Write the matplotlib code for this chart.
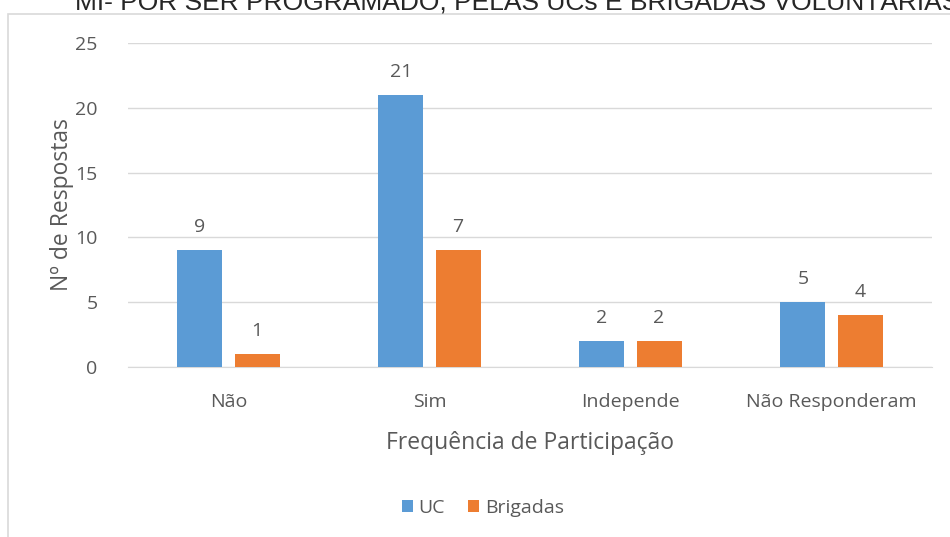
import matplotlib.pyplot as plt
import numpy as np
from matplotlib.patches import Rectangle

# Data
categories = ["Não", "Sim", "Independe", "Não Responderam"]
uc = [9, 21, 2, 5]
brigadas = [1, 9, 2, 4]
uc_labels = ["9", "21", "2", "5"]
brigadas_labels = ["1", "7", "2", "4"]

blue = "#5B9BD5"
orange = "#ED7D31"
gray = "#595959"

plt.rcParams["font.family"] = ["Open Sans", "DejaVu Sans"]

W, H = 950, 537
fig = plt.figure(figsize=(W / 100, H / 100), dpi=100)
ax = fig.add_axes([128 / W, 1 - 367 / H, 804 / W, 324 / H])

# chart border
fig.patches.append(Rectangle((8 / W, -0.1), 1.2, 1 - 14 / H + 0.1, transform=fig.transFigure,
                             fill=False, edgecolor="#D9D9D9", lw=1.2))

x = np.arange(len(categories))
w = 0.224
off = 0.142
b1 = ax.bar(x - off, uc, w, color=blue, label="UC", zorder=3)
b2 = ax.bar(x + off, brigadas, w, color=orange, label="Brigadas", zorder=3)

for bars, labels in [(b1, uc_labels), (b2, brigadas_labels)]:
    for bar, lab in zip(bars, labels):
        ax.text(bar.get_x() + bar.get_width() / 2, bar.get_height() + 1.1, lab,
                ha="center", va="bottom", fontsize=14, color=gray)

ax.set_xlim(-0.5, 3.5)
ax.set_ylim(0, 25)
ax.set_yticks([0, 5, 10, 15, 20, 25])
ax.set_xticks(x)
ax.set_xticklabels(categories)
ax.grid(axis="y", color="#D9D9D9", lw=1, zorder=0)
for s in ["top", "right", "left"]:
    ax.spines[s].set_visible(False)
ax.spines["bottom"].set_color("#D9D9D9")
ax.tick_params(length=0, labelsize=14, colors=gray, pad=19)
ax.tick_params(axis="y", pad=22)

ax.set_xlabel("Frequência de Participação", fontsize=16.5, color=gray, labelpad=14)
ax.set_ylabel("Nº de Respostas", fontsize=16.5, color=gray, va="center")
ax.yaxis.set_label_coords(-(128 - 62) / 804, 0.5)

fig.text(75 / W, 1 - 11 / H, "MI- POR SER PROGRAMADO, PELAS UCs E BRIGADAS VOLUNTÁRIAS",
         family="Liberation Sans", fontsize=19, color="#262626", va="baseline", ha="left")

fig.legend(loc="center", bbox_to_anchor=(483 / W, 1 - 508 / H), ncol=2, frameon=False,
           fontsize=14, labelcolor=gray, handlelength=0.55, handleheight=0.55,
           handletextpad=0.3, columnspacing=1.2)

plt.savefig("out.png", dpi=100)
